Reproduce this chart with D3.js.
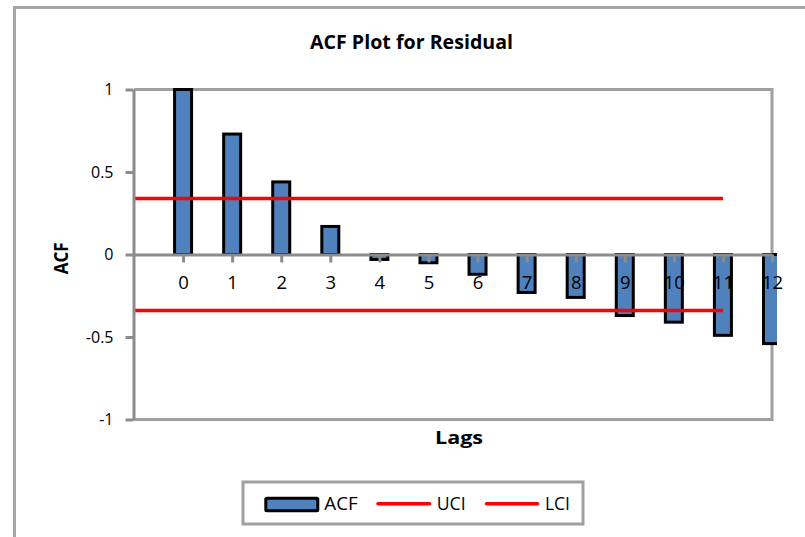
<!DOCTYPE html>
<html>
<head>
<meta charset="utf-8">
<script src="https://cdn.jsdelivr.net/npm/d3@7"></script>
<style>
  html, body { margin: 0; padding: 0; background: #fff; }
  svg { display: block; font-family: "Open Sans", "Liberation Sans", sans-serif; }
</style>
</head>
<body>
<svg id="chart" width="805" height="537"></svg>
<script>
// Category slots: a leading blank slot, then the lags
const slots = ["", "0", "1", "2", "3", "4", "5", "6", "7", "8", "9", "10", "11", "12"];
const lags = ["0", "1", "2", "3", "4", "5", "6", "7", "8", "9", "10", "11", "12"];
const acf = [1.0, 0.73, 0.44, 0.17, -0.03, -0.05, -0.12, -0.23, -0.26, -0.37, -0.41, -0.49, -0.54];
// Confidence limits, one point per slot from the blank slot to lag 11
const uci = [0.34, 0.34, 0.34, 0.34, 0.34, 0.34, 0.34, 0.34, 0.34, 0.34, 0.34, 0.34, 0.34];
const lci = [-0.34, -0.34, -0.34, -0.34, -0.34, -0.34, -0.34, -0.34, -0.34, -0.34, -0.34, -0.34, -0.34];
const yTicks = [1, 0.5, 0, -0.5, -1];
const legendItems = ["ACF", "UCI", "LCI"];

const svg = d3.select("#chart");
const plot = { left: 134, right: 772, top: 89.5, bottom: 419.5 };

const x = d3.scalePoint().domain(slots).range([plot.left, plot.right]).padding(0);
const y = d3.scaleLinear().domain([-1, 1]).range([plot.bottom, plot.top]);

const frameColor = "#a0a0a0";
const axisColor = "#8c8c8c";
const barFill = "#4f81bd";
const red = "#ff0000";

// Chart border
svg.append("rect")
  .attr("x", 14.5).attr("y", 7.5).attr("width", 900).attr("height", 700)
  .attr("fill", "#fff").attr("stroke", "#a6a6a6").attr("stroke-width", 3);

// Plot frame (top, right, bottom)
svg.append("path")
  .attr("d", `M${plot.left},${plot.top}H${plot.right}V${plot.bottom}H${plot.left}`)
  .attr("fill", "none").attr("stroke", frameColor).attr("stroke-width", 3);

// Bars
svg.append("clipPath").attr("id", "plotClip")
  .append("rect").attr("x", plot.left).attr("y", 0)
  .attr("width", plot.right + 5 - plot.left).attr("height", 537);

const barW = 17;
svg.append("g").attr("clip-path", "url(#plotClip)")
  .selectAll("rect").data(lags).join("rect")
  .attr("x", (d) => x(d) - barW / 2)
  .attr("y", (d, i) => y(Math.max(0, acf[i])))
  .attr("width", barW)
  .attr("height", (d, i) => Math.abs(y(acf[i]) - y(0)))
  .attr("fill", barFill)
  .attr("stroke", "#000")
  .attr("stroke-width", 3);

// Confidence limit lines
const line = d3.line().x((d) => x(d[0])).y((d) => y(d[1]));
svg.append("path")
  .datum(uci.map((v, i) => [slots[i], v]))
  .attr("d", line).attr("fill", "none").attr("stroke", red).attr("stroke-width", 3.5);
svg.append("path")
  .datum(lci.map((v, i) => [slots[i], v]))
  .attr("d", line).attr("fill", "none").attr("stroke", red).attr("stroke-width", 3.5);

// Y axis
const yAxis = svg.append("g")
  .attr("transform", `translate(${plot.left - 0.5},0)`)
  .call(d3.axisLeft(y).tickValues(yTicks).tickSize(8).tickSizeOuter(0).tickFormat((d) => String(d)));
yAxis.select(".domain").attr("stroke", axisColor).attr("stroke-width", 3);
yAxis.selectAll(".tick line").attr("stroke", axisColor).attr("stroke-width", 3);
yAxis.selectAll(".tick text")
  .attr("x", -20).attr("fill", "#000")
  .style("font-size", "16px").style("font-family", "'Open Sans', sans-serif");

// X axis along zero
const xAxis = svg.append("g")
  .attr("transform", `translate(0,${y(0)})`)
  .call(d3.axisBottom(x).tickValues(lags).tickSize(8).tickSizeOuter(0));
xAxis.select(".domain").attr("stroke", axisColor).attr("stroke-width", 3);
xAxis.selectAll(".tick line").attr("stroke", axisColor).attr("stroke-width", 3);
xAxis.selectAll(".tick text")
  .attr("y", 34.5).attr("dy", null).attr("fill", "#000")
  .style("font-size", "18.5px").style("font-family", "'Open Sans', sans-serif");

// Titles
svg.append("text")
  .attr("x", 411.5).attr("y", 49.3).attr("text-anchor", "middle")
  .attr("textLength", 203).attr("lengthAdjust", "spacingAndGlyphs")
  .style("font-size", "19.5px").style("font-weight", "bold")
  .text("ACF Plot for Residual");

svg.append("text")
  .attr("x", 459).attr("y", 444.3).attr("text-anchor", "middle")
  .attr("textLength", 48).attr("lengthAdjust", "spacingAndGlyphs")
  .style("font-size", "17.5px").style("font-weight", "bold")
  .text("Lags");

svg.append("text")
  .attr("transform", "translate(68.3,258.3) rotate(-90)")
  .attr("text-anchor", "middle")
  .attr("textLength", 32).attr("lengthAdjust", "spacingAndGlyphs")
  .style("font-size", "19.5px").style("font-weight", "bold")
  .text("ACF");

// Legend
const legend = svg.append("g");
legend.append("rect")
  .attr("x", 243).attr("y", 482).attr("width", 340).attr("height", 42)
  .attr("fill", "#fff").attr("stroke", frameColor).attr("stroke-width", 3);
legend.append("rect")
  .attr("x", 265.8).attr("y", 498.2).attr("width", 52).attr("height", 12.6)
  .attr("fill", barFill).attr("stroke", "#000").attr("stroke-width", 3).attr("rx", 1);
legend.append("line")
  .attr("x1", 378).attr("x2", 429.5).attr("y1", 503.7).attr("y2", 503.7)
  .attr("stroke", red).attr("stroke-width", 3.5).attr("stroke-linecap", "round");
legend.append("line")
  .attr("x1", 486.5).attr("x2", 537.5).attr("y1", 503.7).attr("y2", 503.7)
  .attr("stroke", red).attr("stroke-width", 3.5).attr("stroke-linecap", "round");
const legendX = [324.3, 436.7, 545];
const legendW = [33.4, 29, 25];
legend.selectAll("text.item").data(legendItems).join("text")
  .attr("class", "item")
  .attr("x", (d, i) => legendX[i]).attr("y", 510)
  .attr("textLength", (d, i) => legendW[i]).attr("lengthAdjust", "spacingAndGlyphs")
  .style("font-size", "18px")
  .text((d) => d);
</script>
</body>
</html>
